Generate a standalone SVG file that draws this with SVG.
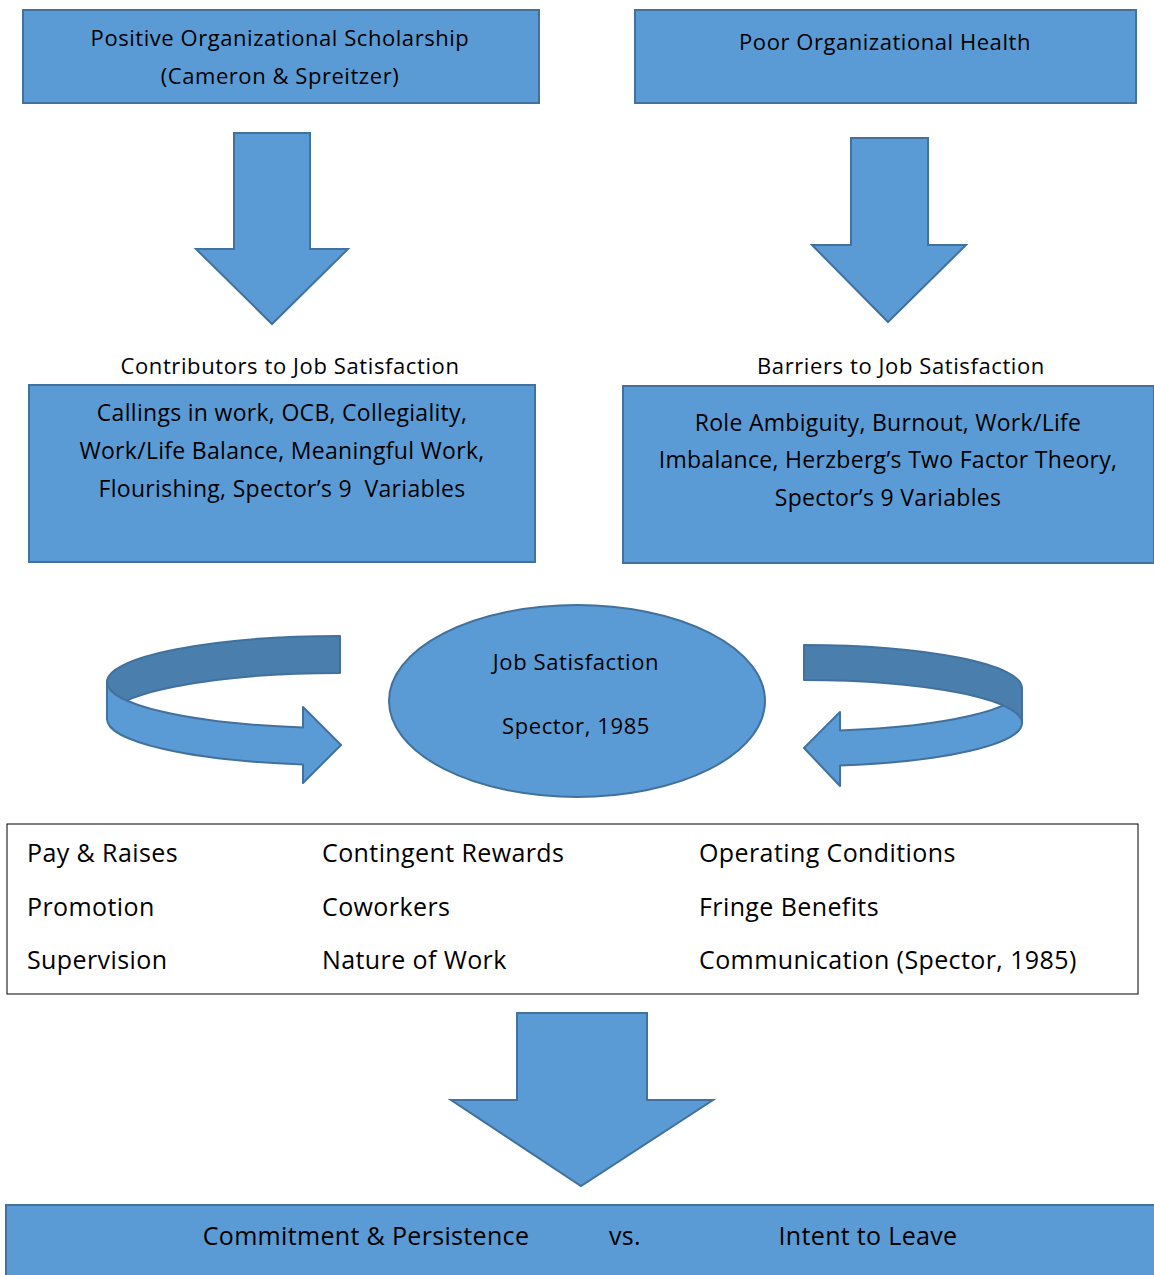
<svg xmlns="http://www.w3.org/2000/svg" width="1154" height="1275" viewBox="0 0 1154 1275">
<style>
.box{fill:#5B9BD5;stroke:#41719C;stroke-width:2}
.dark{fill:#4A7EAD;stroke:#41719C;stroke-width:2;stroke-linejoin:round}
.t{font-family:"Open Sans",Lato,"Liberation Sans",sans-serif;fill:#000;white-space:pre}
.m{text-anchor:middle}
.s1{font-size:22px;letter-spacing:0.55px}
.s2{font-size:22px;letter-spacing:0.6px}
.s3{font-size:23px;letter-spacing:0.3px}
.s4{font-size:25px;letter-spacing:0.4px}
.s5{font-size:25px;letter-spacing:0.33px}
</style>
<rect width="1154" height="1275" fill="#fff"/>
<g id="pos-org">
<rect class="box" x="23" y="10" width="516" height="93"/>
<text class="t m s1" x="280" y="46">Positive Organizational Scholarship</text>
<text class="t m s1" x="280" y="84">(Cameron &amp; Spreitzer)</text>
</g>
<g id="poor-health">
<rect class="box" x="635" y="10" width="501" height="93"/>
<text class="t m s1" x="885" y="50">Poor Organizational Health</text>
</g>
<g id="contributors">
<text class="t m s2" x="290" y="374">Contributors to Job Satisfaction</text>
<rect class="box" x="29" y="385" width="506" height="177"/>
<text class="t m s3" x="282" y="421">Callings in work, OCB, Collegiality,</text>
<text class="t m s3" x="282" y="459">Work/Life Balance, Meaningful Work,</text>
<text class="t m s3" x="282" y="497">Flourishing, Spector’s 9  Variables</text>
</g>
<g id="barriers">
<text class="t m s2" x="901" y="374">Barriers to Job Satisfaction</text>
<rect class="box" x="623" y="386" width="531" height="177"/>
<text class="t m s3" x="888" y="431">Role Ambiguity, Burnout, Work/Life</text>
<text class="t m s3" x="888" y="468">Imbalance, Herzberg’s Two Factor Theory,</text>
<text class="t m s3" x="888" y="506">Spector’s 9 Variables</text>
</g>
<g id="job-satisfaction">
<ellipse class="box" cx="577" cy="701" rx="188" ry="96"/>
<text class="t m s2" x="576" y="670">Job Satisfaction</text>
<text class="t m s2" x="576" y="734">Spector, 1985</text>
</g>
<g id="variables">
<rect x="7" y="824" width="1131" height="170" fill="#fff" stroke="#000" stroke-width="1"/>
<text class="t s4" x="27" y="862">Pay &amp; Raises</text>
<text class="t s4" x="27" y="916">Promotion</text>
<text class="t s4" x="27" y="969">Supervision</text>
<text class="t s4" x="322" y="862">Contingent Rewards</text>
<text class="t s4" x="322" y="916">Coworkers</text>
<text class="t s4" x="322" y="969">Nature of Work</text>
<text class="t s4" x="699" y="862">Operating Conditions</text>
<text class="t s4" x="699" y="916">Fringe Benefits</text>
<text class="t s4" x="699" y="969">Communication (Spector, 1985)</text>
</g>
<g id="outcome">
<rect class="box" x="6" y="1205" width="1160" height="80"/>
<text class="t m s5" x="366" y="1245">Commitment &amp; Persistence</text>
<text class="t m s5" x="625" y="1245">vs.</text>
<text class="t m s5" x="868" y="1245">Intent to Leave</text>
</g>
<g id="connectors">
<path class="box" stroke-linejoin="miter" d="M234 133 H310 V249 H348 L272 324 L196 249 H234 Z"/>
<path class="box" d="M851 138 H928 V245 H966 L888 322 L812 245 H851 Z"/>
<path class="box" d="M517 1013 H647 V1100 H713 L581 1186 L451 1100 H517 Z"/>
<path class="dark" d="M340 636 A233 46 0 0 0 107 682 L107 719 A233 46 0 0 1 340 673 Z"/>
<path class="box" stroke-linejoin="round" d="M107 682 A233 46 0 0 0 303 727.4 L303 707 L341 745 L303 783 L303 764.4 A233 46 0 0 1 107 719 Z"/>
<path class="box" stroke-linejoin="round" d="M1022 688 A218 43 0 0 1 840 730.4 L840 712 L804 748 L840 786 L840 765.4 A218 43 0 0 0 1022 723 Z"/>
<path class="dark" d="M804 645 A218 43 0 0 1 1022 688 L1022 723 A218 43 0 0 0 804 680 Z"/>
</g>
</svg>
